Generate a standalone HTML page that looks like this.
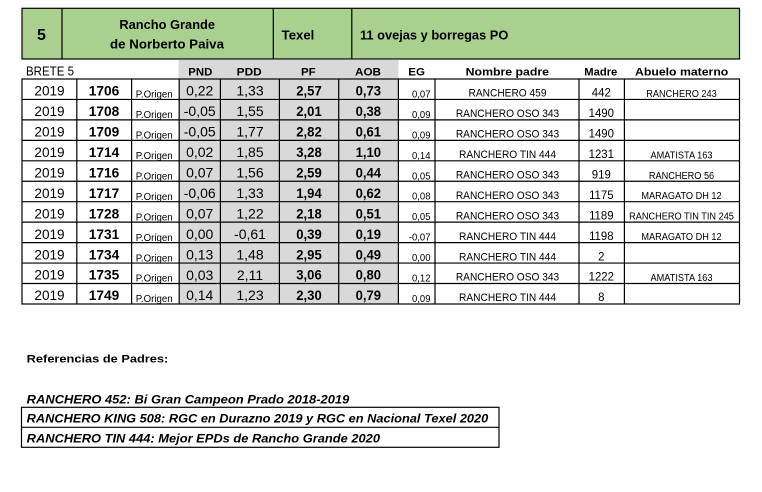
<!DOCTYPE html>
<html>
<head>
<meta charset="utf-8">
<style>
html,body{margin:0;padding:0;background:#fff;}
svg{display:block;}
text{font-family:"Liberation Sans",Arial,sans-serif;fill:#000;}
.b{font-weight:bold;}
</style>
</head>
<body>
<svg width="762" height="492" viewBox="0 0 762 492" xmlns="http://www.w3.org/2000/svg">
<rect x="0" y="0" width="762" height="492" fill="#fff"/>

<!-- Green title bar -->
<rect x="22" y="8.3" width="717.5" height="50.7" fill="#a9d08e" stroke="#000" stroke-width="1.2"/>
<line x1="62" y1="8.3" x2="62" y2="59" stroke="#000" stroke-width="1.2"/>
<line x1="273.3" y1="8.3" x2="273.3" y2="59" stroke="#000" stroke-width="1.2"/>
<line x1="351.8" y1="8.3" x2="351.8" y2="59" stroke="#000" stroke-width="1.2"/>
<text class="b" x="41.5" y="40" font-size="16" text-anchor="middle">5</text>
<text class="b" x="167.2" y="29" font-size="12.5" text-anchor="middle" textLength="95.7" lengthAdjust="spacingAndGlyphs">Rancho Grande</text>
<text class="b" x="167" y="48.3" font-size="12.5" text-anchor="middle" textLength="114" lengthAdjust="spacingAndGlyphs">de Norberto Paiva</text>
<text class="b" x="281.7" y="39.3" font-size="12.5" textLength="32.6" lengthAdjust="spacingAndGlyphs">Texel</text>
<text class="b" x="360" y="39.3" font-size="12.5" textLength="148.3" lengthAdjust="spacingAndGlyphs">11 ovejas y borregas PO</text>

<!-- Grey block -->
<rect x="178.5" y="59.6" width="220" height="244.4" fill="#d9d9d9"/>

<!-- Header row -->
<text x="26" y="75.6" font-size="12.5" textLength="48" lengthAdjust="spacingAndGlyphs">BRETE 5</text>
<text class="b" x="188.3" y="75.5" font-size="10.8" textLength="24" lengthAdjust="spacingAndGlyphs">PND</text>
<text class="b" x="236.7" y="75.5" font-size="10.8" textLength="25" lengthAdjust="spacingAndGlyphs">PDD</text>
<text class="b" x="301" y="75.5" font-size="11" textLength="14.7" lengthAdjust="spacingAndGlyphs">PF</text>
<text class="b" x="355" y="75.5" font-size="11" textLength="26" lengthAdjust="spacingAndGlyphs">AOB</text>
<text class="b" x="408.3" y="75.5" font-size="11" textLength="16.7" lengthAdjust="spacingAndGlyphs">EG</text>
<text class="b" x="465.7" y="75.5" font-size="11" textLength="83.3" lengthAdjust="spacingAndGlyphs">Nombre padre</text>
<text class="b" x="584.3" y="75.5" font-size="11" textLength="33" lengthAdjust="spacingAndGlyphs">Madre</text>
<text class="b" x="635" y="75.5" font-size="11" textLength="93.3" lengthAdjust="spacingAndGlyphs">Abuelo materno</text>

<!-- Grid -->
<g stroke="#000" stroke-width="1.2">
<rect x="22" y="79" width="717.5" height="225" fill="none"/>
<line x1="22" y1="99.45" x2="739.5" y2="99.45"/>
<line x1="22" y1="119.9" x2="739.5" y2="119.9"/>
<line x1="22" y1="140.35" x2="739.5" y2="140.35"/>
<line x1="22" y1="160.8" x2="739.5" y2="160.8"/>
<line x1="22" y1="181.25" x2="739.5" y2="181.25"/>
<line x1="22" y1="201.7" x2="739.5" y2="201.7"/>
<line x1="22" y1="222.15" x2="739.5" y2="222.15"/>
<line x1="22" y1="242.6" x2="739.5" y2="242.6"/>
<line x1="22" y1="263.05" x2="739.5" y2="263.05"/>
<line x1="22" y1="283.5" x2="739.5" y2="283.5"/>
<line x1="76.8" y1="79" x2="76.8" y2="304"/>
<line x1="131.6" y1="79" x2="131.6" y2="304"/>
<line x1="179.2" y1="79" x2="179.2" y2="304"/>
<line x1="220.4" y1="79" x2="220.4" y2="304"/>
<line x1="279.4" y1="79" x2="279.4" y2="304"/>
<line x1="338.7" y1="79" x2="338.7" y2="304"/>
<line x1="398.4" y1="79" x2="398.4" y2="304"/>
<line x1="435" y1="79" x2="435" y2="304"/>
<line x1="579" y1="79" x2="579" y2="304"/>
<line x1="624.4" y1="79" x2="624.4" y2="304"/>
</g>

<!-- Year column -->
<g transform="translate(49.5,0) scale(0.97,1)" font-size="14" text-anchor="middle">
<text x="0" y="95.7">2019</text>
<text x="0" y="116.15">2019</text>
<text x="0" y="136.6">2019</text>
<text x="0" y="157.05">2019</text>
<text x="0" y="177.5">2019</text>
<text x="0" y="197.95">2019</text>
<text x="0" y="218.4">2019</text>
<text x="0" y="238.85">2019</text>
<text x="0" y="259.3">2019</text>
<text x="0" y="279.75">2019</text>
<text x="0" y="300.2">2019</text>
</g>

<!-- ID column -->
<g transform="translate(104,0) scale(0.98,1)" font-size="14" font-weight="bold" text-anchor="middle">
<text x="0" y="95.7">1706</text>
<text x="0" y="116.15">1708</text>
<text x="0" y="136.6">1709</text>
<text x="0" y="157.05">1714</text>
<text x="0" y="177.5">1716</text>
<text x="0" y="197.95">1717</text>
<text x="0" y="218.4">1728</text>
<text x="0" y="238.85">1731</text>
<text x="0" y="259.3">1734</text>
<text x="0" y="279.75">1735</text>
<text x="0" y="300.2">1749</text>
</g>

<!-- P.Origen column -->
<g transform="translate(135.7,0) scale(0.97,1)" font-size="10">
<text x="0" y="97.7">P.Origen</text>
<text x="0" y="118.15">P.Origen</text>
<text x="0" y="138.6">P.Origen</text>
<text x="0" y="159.05">P.Origen</text>
<text x="0" y="179.5">P.Origen</text>
<text x="0" y="199.95">P.Origen</text>
<text x="0" y="220.4">P.Origen</text>
<text x="0" y="240.85">P.Origen</text>
<text x="0" y="261.3">P.Origen</text>
<text x="0" y="281.75">P.Origen</text>
<text x="0" y="302.2">P.Origen</text>
</g>

<!-- PND -->
<g transform="translate(199.7,0)" font-size="14" text-anchor="middle">
<text x="0" y="95.7">0,22</text>
<text x="0" y="116.15">-0,05</text>
<text x="0" y="136.6">-0,05</text>
<text x="0" y="157.05">0,02</text>
<text x="0" y="177.5">0,07</text>
<text x="0" y="197.95">-0,06</text>
<text x="0" y="218.4">0,07</text>
<text x="0" y="238.85">0,00</text>
<text x="0" y="259.3">0,13</text>
<text x="0" y="279.75">0,03</text>
<text x="0" y="300.2">0,14</text>
</g>

<!-- PDD -->
<g transform="translate(250,0)" font-size="14" text-anchor="middle">
<text x="0" y="95.7">1,33</text>
<text x="0" y="116.15">1,55</text>
<text x="0" y="136.6">1,77</text>
<text x="0" y="157.05">1,85</text>
<text x="0" y="177.5">1,56</text>
<text x="0" y="197.95">1,33</text>
<text x="0" y="218.4">1,22</text>
<text x="0" y="238.85">-0,61</text>
<text x="0" y="259.3">1,48</text>
<text x="0" y="279.75">2,11</text>
<text x="0" y="300.2">1,23</text>
</g>

<!-- PF -->
<g transform="translate(309,0) scale(0.97,1)" font-size="13.5" font-weight="bold" text-anchor="middle">
<text x="0" y="95.7">2,57</text>
<text x="0" y="116.15">2,01</text>
<text x="0" y="136.6">2,82</text>
<text x="0" y="157.05">3,28</text>
<text x="0" y="177.5">2,59</text>
<text x="0" y="197.95">1,94</text>
<text x="0" y="218.4">2,18</text>
<text x="0" y="238.85">0,39</text>
<text x="0" y="259.3">2,95</text>
<text x="0" y="279.75">3,06</text>
<text x="0" y="300.2">2,30</text>
</g>

<!-- AOB -->
<g transform="translate(368.3,0) scale(0.97,1)" font-size="13.5" font-weight="bold" text-anchor="middle">
<text x="0" y="95.7">0,73</text>
<text x="0" y="116.15">0,38</text>
<text x="0" y="136.6">0,61</text>
<text x="0" y="157.05">1,10</text>
<text x="0" y="177.5">0,44</text>
<text x="0" y="197.95">0,62</text>
<text x="0" y="218.4">0,51</text>
<text x="0" y="238.85">0,19</text>
<text x="0" y="259.3">0,49</text>
<text x="0" y="279.75">0,80</text>
<text x="0" y="300.2">0,79</text>
</g>

<!-- EG -->
<g transform="translate(430.5,0) scale(0.95,1)" font-size="10" text-anchor="end">
<text x="0" y="97.5">0,07</text>
<text x="0" y="117.95">0,09</text>
<text x="0" y="138.4">0,09</text>
<text x="0" y="158.85">0,14</text>
<text x="0" y="179.3">0,05</text>
<text x="0" y="199.75">0,08</text>
<text x="0" y="220.2">0,05</text>
<text x="0" y="240.65">-0,07</text>
<text x="0" y="261.1">0,00</text>
<text x="0" y="281.55">0,12</text>
<text x="0" y="302">0,09</text>
</g>

<!-- Nombre padre -->
<g transform="translate(507.5,0) scale(0.885,1)" font-size="11.5" text-anchor="middle">
<text x="0" y="96.7">RANCHERO 459</text>
<text x="0" y="117.15">RANCHERO OSO 343</text>
<text x="0" y="137.6">RANCHERO OSO 343</text>
<text x="0" y="158.05">RANCHERO TIN 444</text>
<text x="0" y="178.5">RANCHERO OSO 343</text>
<text x="0" y="198.95">RANCHERO OSO 343</text>
<text x="0" y="219.4">RANCHERO OSO 343</text>
<text x="0" y="239.85">RANCHERO TIN 444</text>
<text x="0" y="260.3">RANCHERO TIN 444</text>
<text x="0" y="280.75">RANCHERO OSO 343</text>
<text x="0" y="301.2">RANCHERO TIN 444</text>
</g>

<!-- Madre -->
<g transform="translate(601.3,0) scale(0.95,1)" font-size="12" text-anchor="middle">
<text x="0" y="96.7">442</text>
<text x="0" y="117.15">1490</text>
<text x="0" y="137.6">1490</text>
<text x="0" y="158.05">1231</text>
<text x="0" y="178.5">919</text>
<text x="0" y="198.95">1175</text>
<text x="0" y="219.4">1189</text>
<text x="0" y="239.85">1198</text>
<text x="0" y="260.3">2</text>
<text x="0" y="280.75">1222</text>
<text x="0" y="301.2">8</text>
</g>

<!-- Abuelo materno -->
<g transform="translate(681.5,0) scale(0.92,1)" font-size="10" text-anchor="middle">
<text x="0" y="97">RANCHERO 243</text>
<text x="0" y="158.35">AMATISTA 163</text>
<text x="0" y="178.8">RANCHERO 56</text>
<text x="0" y="199.25">MARAGATO DH 12</text>
<text x="0" y="219.7">RANCHERO TIN TIN 245</text>
<text x="0" y="240.15">MARAGATO DH 12</text>
<text x="0" y="281.05">AMATISTA 163</text>
</g>

<!-- References -->
<text class="b" x="26.7" y="362.7" font-size="11" textLength="141.6" lengthAdjust="spacingAndGlyphs">Referencias de Padres:</text>
<text class="b" x="26.7" y="403.3" font-size="11.5" font-style="italic" textLength="322.6" lengthAdjust="spacingAndGlyphs">RANCHERO 452: Bi Gran Campeon Prado 2018-2019</text>
<rect x="21.5" y="407.3" width="477.5" height="40" fill="none" stroke="#000" stroke-width="1.2"/>
<line x1="21.5" y1="427.3" x2="499" y2="427.3" stroke="#000" stroke-width="1.2"/>
<text class="b" x="26.7" y="422.7" font-size="11.5" font-style="italic" textLength="461.6" lengthAdjust="spacingAndGlyphs">RANCHERO KING 508: RGC en Durazno 2019 y RGC en Nacional Texel 2020</text>
<text class="b" x="26.7" y="442.7" font-size="11.5" font-style="italic" textLength="353.3" lengthAdjust="spacingAndGlyphs">RANCHERO TIN 444: Mejor EPDs de Rancho Grande 2020</text>
</svg>
</body>
</html>
